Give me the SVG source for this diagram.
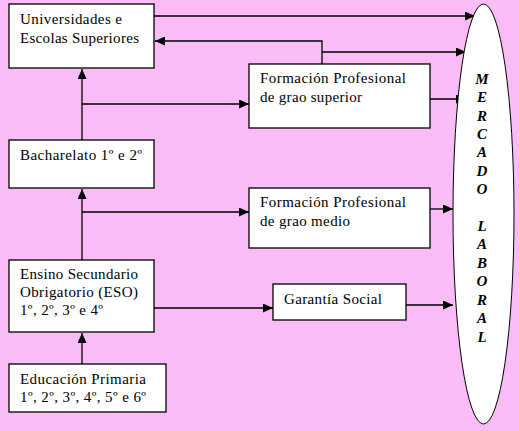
<svg xmlns="http://www.w3.org/2000/svg" width="519" height="431" viewBox="0 0 519 431">
<style>
.bg{fill:#FABCF6}
.box{fill:#fff;stroke:#000;stroke-width:1.3}
.t{font-family:"Liberation Serif","Times New Roman",serif;font-size:15px;fill:#000}
.m{font-family:"Liberation Serif","Times New Roman",serif;font-size:15px;font-weight:bold;font-style:italic;fill:#000;text-anchor:middle}
.c{fill:none;stroke:#000;stroke-width:1.3;marker-end:url(#ah)}
</style>
<defs>
<marker id="ah" markerUnits="userSpaceOnUse" markerWidth="10" markerHeight="9" refX="10" refY="4.5" orient="auto">
<path d="M0,0 L10,4.5 L0,9 z" fill="#000"/>
</marker>
</defs>
<rect class="bg" x="0" y="0" width="519" height="431"/>
<g id="connectors">
<path class="c" d="M154,16 H475"/>
<path class="c" d="M322,64 V41 H155"/>
<path class="c" d="M322,52 H466"/>
<path class="c" d="M430,99 H466"/>
<path class="c" d="M82,140 V69"/>
<path class="c" d="M82,104 H249"/>
<path class="c" d="M82,260 V189"/>
<path class="c" d="M82,212 H249"/>
<path class="c" d="M430,209 H453"/>
<path class="c" d="M154,308 H273"/>
<path class="c" d="M406,305 H453"/>
<path class="c" d="M82,364 V333"/>
</g>
<g id="universidades">
<rect class="box" x="9" y="4" width="145" height="64"/>
<text class="t" x="20" y="24" textLength="102" lengthAdjust="spacing">Universidades e</text>
<text class="t" x="20" y="43" textLength="119" lengthAdjust="spacing">Escolas Superiores</text>
</g>
<g id="fp-superior">
<rect class="box" x="249" y="64" width="181" height="64"/>
<text class="t" x="260" y="83" textLength="146" lengthAdjust="spacing">Formación Profesional</text>
<text class="t" x="260" y="102" textLength="102" lengthAdjust="spacing">de grao superior</text>
</g>
<g id="bacharelato">
<rect class="box" x="9" y="140" width="145" height="48"/>
<text class="t" x="20" y="160" textLength="122" lengthAdjust="spacing">Bacharelato 1º e 2º</text>
</g>
<g id="fp-medio">
<rect class="box" x="249" y="188" width="181" height="60"/>
<text class="t" x="260" y="207" textLength="146" lengthAdjust="spacing">Formación Profesional</text>
<text class="t" x="260" y="226" textLength="90" lengthAdjust="spacing">de grao medio</text>
</g>
<g id="eso">
<rect class="box" x="9" y="260" width="145" height="72"/>
<text class="t" x="20" y="279" textLength="118" lengthAdjust="spacing">Ensino Secundario</text>
<text class="t" x="20" y="297" textLength="118" lengthAdjust="spacing">Obrigatorio (ESO)</text>
<text class="t" x="20" y="315" textLength="83" lengthAdjust="spacing">1º, 2º, 3º e 4º</text>
</g>
<g id="garantia">
<rect class="box" x="273" y="284" width="133" height="36"/>
<text class="t" x="284" y="304" textLength="98" lengthAdjust="spacing">Garantía Social</text>
</g>
<g id="primaria">
<rect class="box" x="9" y="364" width="157" height="48"/>
<text class="t" x="20" y="384" textLength="126" lengthAdjust="spacing">Educación Primaria</text>
<text class="t" x="20" y="402" textLength="126" lengthAdjust="spacing">1º, 2º, 3º, 4º, 5º e 6º</text>
</g>
<g id="mercado">
<ellipse cx="483.5" cy="214" rx="30.5" ry="210" fill="#fff" stroke="#000" stroke-width="1"/>
<text class="m" x="482" y="84">M</text>
<text class="m" x="482" y="102">E</text>
<text class="m" x="482" y="121">R</text>
<text class="m" x="482" y="139">C</text>
<text class="m" x="482" y="157">A</text>
<text class="m" x="482" y="176">D</text>
<text class="m" x="482" y="194">O</text>
<text class="m" x="482" y="231">L</text>
<text class="m" x="482" y="249">A</text>
<text class="m" x="482" y="268">B</text>
<text class="m" x="482" y="286">O</text>
<text class="m" x="482" y="305">R</text>
<text class="m" x="482" y="323">A</text>
<text class="m" x="482" y="342">L</text>
</g>
</svg>
